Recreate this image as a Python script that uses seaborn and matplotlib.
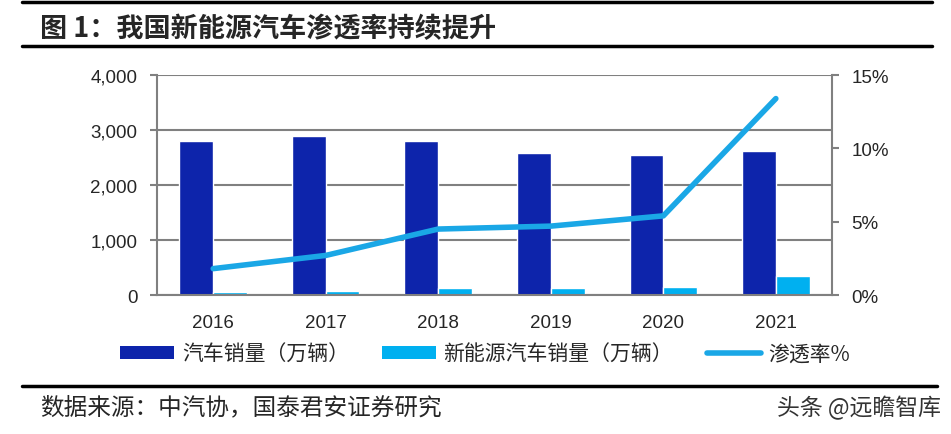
import numpy as np
import pandas as pd
import matplotlib
matplotlib.use('Agg')
import matplotlib.pyplot as plt
from matplotlib.lines import Line2D
from matplotlib.patches import Patch
import seaborn as sns

# data
years = ['2016', '2017', '2018', '2019', '2020', '2021']
car_sales = [2795, 2898, 2800, 2590, 2545, 2625]
nev_sales = [51, 78, 126, 121, 137, 352]
penetration = [1.8, 2.7, 4.5, 4.7, 5.4, 13.4]
series_names = ['汽车销量（万辆）', '新能源汽车销量（万辆）', '渗透率%']

dark_blue = '#0D24AB'
light_blue = '#00B0F0'
line_blue = '#1AA7E6'
gray = '#808080'

sns.set_style('white')
plt.rcParams['font.family'] = ['Liberation Sans', 'Noto Sans CJK SC', 'DejaVu Sans']
cjk = ['Noto Sans CJK SC', 'DejaVu Sans']

df = pd.DataFrame({
    'year': years * 2,
    'value': car_sales + nev_sales,
    'series': [series_names[0]] * len(years) + [series_names[1]] * len(years),
})

fig = plt.figure(figsize=(9.51, 4.35), dpi=100)
ax = fig.add_axes([0.165, 0.3195, 0.71, 0.5055])

sns.barplot(data=df, x='year', y='value', hue='series', palette=[dark_blue, light_blue],
            width=0.6, saturation=1, ax=ax, legend=False)
ax.set_ylim(0, 4000)
ax.set_xlim(-0.5, len(years) - 0.5)
ax.set_yticks([0, 1000, 2000, 3000, 4000])
ax.set_yticklabels(['0', '1,000', '2,000', '3,000', '4,000'])
ax.yaxis.grid(True, color=gray, linewidth=1.5)
ax.set_axisbelow(True)
ax.set_xlabel('')
ax.set_ylabel('')
ax.tick_params(axis='y', length=5, width=1.5, color=gray, labelsize=13.5, pad=9)
ax.tick_params(axis='x', which='major', length=0, labelsize=13.5, pad=14)
ax.set_xticks(np.arange(-0.5, len(years)), minor=True)
ax.tick_params(axis='x', which='minor', length=5, width=1.5, color=gray)
for s in ['left', 'bottom']:
    ax.spines[s].set_color(gray)
    ax.spines[s].set_linewidth(1.5)
ax.spines['top'].set_visible(False)
ax.spines['right'].set_visible(False)

ax2 = ax.twinx()
sns.lineplot(x=np.arange(len(years)), y=penetration, color=line_blue, linewidth=4,
             solid_capstyle='round', ax=ax2)
ax2.set_ylim(0, 15)
ax2.set_yticks([0, 5, 10, 15])
ax2.set_yticklabels(['0%', '5%', '10%', '15%'])
ax2.tick_params(axis='y', length=5, width=1.5, color=gray, labelsize=13.5, pad=9)
ax2.spines['right'].set_color(gray)
ax2.spines['right'].set_linewidth(1.5)
for s in ['top', 'left', 'bottom']:
    ax2.spines[s].set_visible(False)
ax2.set_xlim(-0.5, len(years) - 0.5)

# legend
handles = [Patch(facecolor=dark_blue, edgecolor='none'),
           Patch(facecolor=light_blue, edgecolor='none'),
           Line2D([0], [0], color=line_blue, linewidth=4, solid_capstyle='round')]
fig.legend(handles, series_names, loc='center', bbox_to_anchor=(0.51, 0.184), ncol=3,
           frameon=False, prop={'family': cjk, 'size': 15}, handlelength=2.6,
           handleheight=0.6, handletextpad=0.35, columnspacing=1.6)

# title and footer
fig.text(0.042, 0.932, '图 1：我国新能源汽车渗透率持续提升', fontsize=19.5, fontweight='bold',
         family=cjk, va='center', ha='left')
fig.add_artist(Line2D([0.023, 0.98], [0.993, 0.993], color='black', linewidth=2.5))
fig.add_artist(Line2D([0.023, 0.98], [0.892, 0.892], color='black', linewidth=2.5))
fig.add_artist(Line2D([0.023, 0.985], [0.11, 0.11], color='black', linewidth=2.5))
fig.text(0.042, 0.062, '数据来源：中汽协，国泰君安证券研究', fontsize=17, family=cjk,
         va='center', ha='left')
fig.text(0.99, 0.062, '头条 @远瞻智库', fontsize=16.5, family=cjk, color='#333333',
         va='center', ha='right')

fig.savefig('out.png', dpi=100)
